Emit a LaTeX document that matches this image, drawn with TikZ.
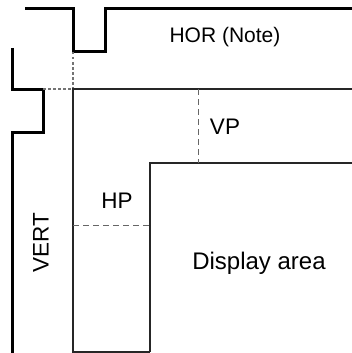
\documentclass[tikz,border=0pt]{standalone}
\usepackage{fontspec}
\setmainfont{Liberation Sans}
\begin{document}
\begin{tikzpicture}[x=1pt,y=-1pt,
  thickln/.style={line width=3pt,line join=miter},
  thinln/.style={line width=2pt,black!85},
  dashln/.style={line width=1pt,black!60,dash pattern=on 6pt off 4pt},
  dotln/.style={line width=1.2pt,black!55,dash pattern=on 2.5pt off 2.5pt},
  lbl/.style={font=\fontsize{22.5}{26}\selectfont,inner sep=0pt}]
\useasboundingbox (0,0) rectangle (351,353);
% coordinates
\coordinate (t1) at (25,9);
\coordinate (t2) at (73,9);
\coordinate (t3) at (73,52);
\coordinate (t4) at (105,52);
\coordinate (t5) at (105,9);
\coordinate (t6) at (352,9);
\coordinate (l1) at (12.5,48);
\coordinate (l2) at (12.5,89);
\coordinate (l3) at (43,89);
\coordinate (l4) at (43,132);
\coordinate (l5) at (12.5,132);
\coordinate (l6) at (12.5,354);
\coordinate (o1) at (73,89);
\coordinate (o2) at (73,352);
\coordinate (o3) at (352,89);
\coordinate (d1) at (150,163);
\coordinate (d2) at (150,352);
\coordinate (d3) at (352,163);
\coordinate (vp1) at (198,89);
\coordinate (vp2) at (198,163);
\coordinate (hp1) at (73,225);
\coordinate (hp2) at (150,225);
% thick outlines
\draw[thickln] (t1) -- (t2) -- (t3) -- (t4) -- (t5) -- (t6);
\draw[thickln] (l1) -- (l2) -- (l3) -- (l4) -- (l5) -- (l6);
% dotted corner
\draw[dotln] (t3) -- (o1);
\draw[dotln] (l3) -- (o1);
% thin outlines
\draw[thinln] (o3) -- (o1) -- (o2) -- (d2);
\draw[thinln] (d2) -- (d1) -- (d3);
% dashed
\draw[dashln] (vp1) -- (vp2);
\draw[dashln] (hp1) -- (hp2);
% labels
\node[lbl,font=\fontsize{21}{24}\selectfont] (hor) at (225,37) {HOR (Note)};
\node[lbl] (vp) at (225,127) {VP};
\node[lbl] (hp) at (117,201) {HP};
\node[lbl,rotate=90] (vert) at (41,243) {VERT};
\node[lbl,font=\fontsize{24}{28}\selectfont] (disp) at (259,263) {Display area};
\end{tikzpicture}
\end{document}
